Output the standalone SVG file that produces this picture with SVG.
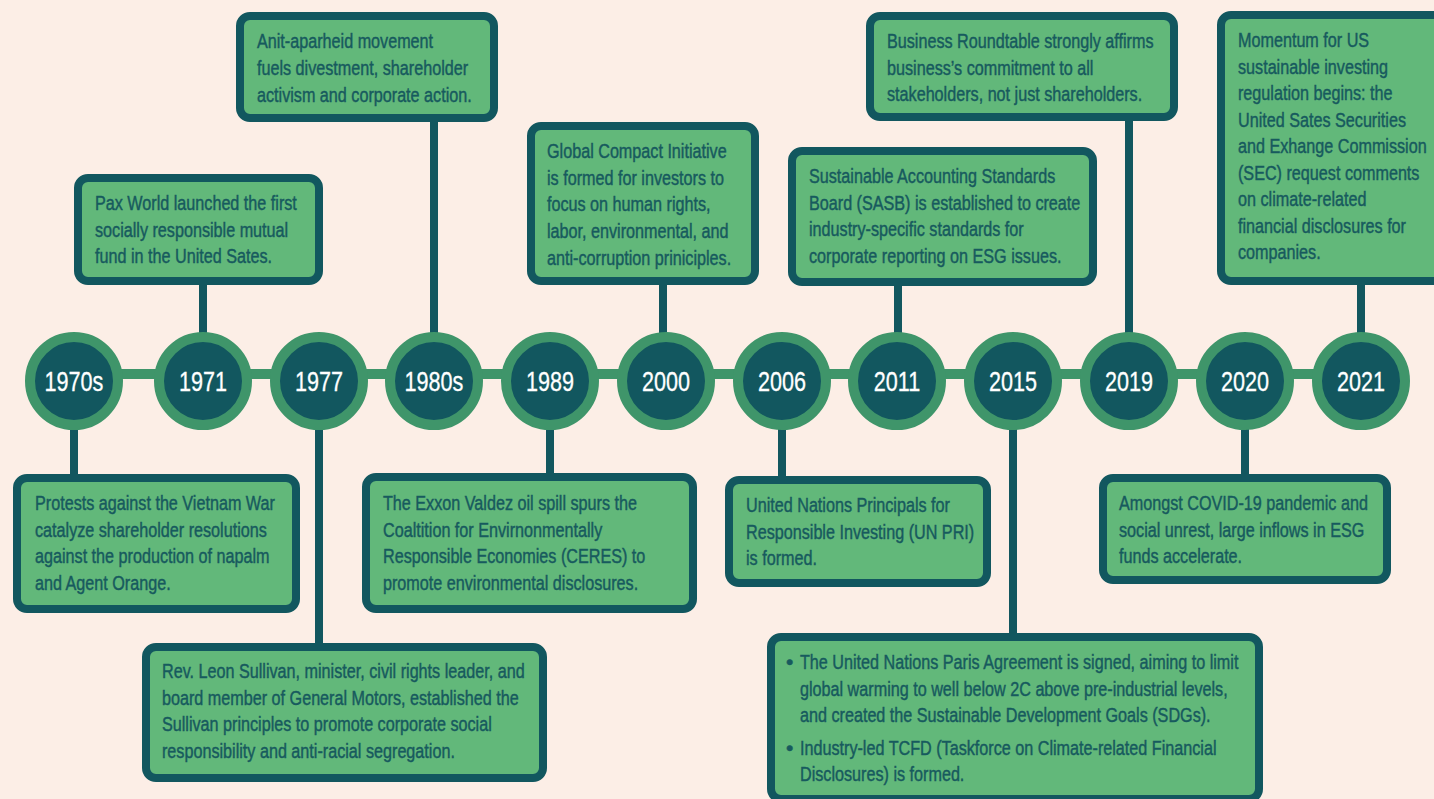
<svg xmlns="http://www.w3.org/2000/svg" width="1434" height="799" viewBox="0 0 1434 799">
<style>
.bg{fill:#FCEEE6}
.box{fill:#62B87A;stroke:#12575F;stroke-width:8}
.stem{stroke:#12575F;stroke-width:8;fill:none}
.bar{stroke:#3F956A;stroke-width:10;fill:none}
.ring{fill:#12575F;stroke:#3F956A;stroke-width:10}
.yr{font-family:"Liberation Sans",Arial,sans-serif;font-size:27px;fill:#FFFFFF;text-anchor:middle;stroke:#FFFFFF;stroke-width:0.3}
.t{font-family:"Liberation Sans",Arial,sans-serif;font-size:21px;fill:#175A5E;stroke:#175A5E;stroke-width:0.45}
</style>
<rect class="bg" x="0" y="0" width="1434" height="799"/>
<g id="connectors">
<line class="bar" x1="74" y1="374" x2="1361" y2="374"/>
<line class="stem" x1="203" y1="282" x2="203" y2="334"/>
<line class="stem" x1="434" y1="118" x2="434" y2="334"/>
<line class="stem" x1="663" y1="282" x2="663" y2="334"/>
<line class="stem" x1="898" y1="282" x2="898" y2="334"/>
<line class="stem" x1="1129" y1="118" x2="1129" y2="334"/>
<line class="stem" x1="1361" y1="282" x2="1361" y2="334"/>
<line class="stem" x1="74" y1="428" x2="74" y2="478"/>
<line class="stem" x1="319" y1="428" x2="319" y2="647"/>
<line class="stem" x1="550" y1="428" x2="550" y2="477"/>
<line class="stem" x1="782" y1="428" x2="782" y2="480"/>
<line class="stem" x1="1013" y1="428" x2="1013" y2="637"/>
<line class="stem" x1="1245" y1="428" x2="1245" y2="478"/>
</g>
<g id="y1970s"><circle class="ring" cx="74" cy="381" r="44"/><text class="yr" x="74" y="391" transform="translate(74,0) scale(0.8,1) translate(-74,0)">1970s</text></g>
<g id="y1971"><circle class="ring" cx="203" cy="381" r="44"/><text class="yr" x="203" y="391" transform="translate(203,0) scale(0.8,1) translate(-203,0)">1971</text></g>
<g id="y1977"><circle class="ring" cx="319" cy="381" r="44"/><text class="yr" x="319" y="391" transform="translate(319,0) scale(0.8,1) translate(-319,0)">1977</text></g>
<g id="y1980s"><circle class="ring" cx="434" cy="381" r="44"/><text class="yr" x="434" y="391" transform="translate(434,0) scale(0.8,1) translate(-434,0)">1980s</text></g>
<g id="y1989"><circle class="ring" cx="550" cy="381" r="44"/><text class="yr" x="550" y="391" transform="translate(550,0) scale(0.8,1) translate(-550,0)">1989</text></g>
<g id="y2000"><circle class="ring" cx="666" cy="381" r="44"/><text class="yr" x="666" y="391" transform="translate(666,0) scale(0.8,1) translate(-666,0)">2000</text></g>
<g id="y2006"><circle class="ring" cx="782" cy="381" r="44"/><text class="yr" x="782" y="391" transform="translate(782,0) scale(0.8,1) translate(-782,0)">2006</text></g>
<g id="y2011"><circle class="ring" cx="897" cy="381" r="44"/><text class="yr" x="897" y="391" transform="translate(897,0) scale(0.8,1) translate(-897,0)">2011</text></g>
<g id="y2015"><circle class="ring" cx="1013" cy="381" r="44"/><text class="yr" x="1013" y="391" transform="translate(1013,0) scale(0.8,1) translate(-1013,0)">2015</text></g>
<g id="y2019"><circle class="ring" cx="1129" cy="381" r="44"/><text class="yr" x="1129" y="391" transform="translate(1129,0) scale(0.8,1) translate(-1129,0)">2019</text></g>
<g id="y2020"><circle class="ring" cx="1245" cy="381" r="44"/><text class="yr" x="1245" y="391" transform="translate(1245,0) scale(0.8,1) translate(-1245,0)">2020</text></g>
<g id="y2021"><circle class="ring" cx="1361" cy="381" r="44"/><text class="yr" x="1361" y="391" transform="translate(1361,0) scale(0.8,1) translate(-1361,0)">2021</text></g>

<g id="box1970s"><rect class="box" x="17" y="478" width="279" height="131" rx="10"/>
<g transform="translate(35,0) scale(0.77,1) translate(-35,0)">
<text class="t" x="35" y="510">Protests against the Vietnam War</text>
<text class="t" x="35" y="537">catalyze shareholder resolutions</text>
<text class="t" x="35" y="563">against the production of napalm</text>
<text class="t" x="35" y="590">and Agent Orange.</text></g></g>

<g id="box1971"><rect class="box" x="78" y="178" width="241" height="103" rx="10"/>
<g transform="translate(95,0) scale(0.77,1) translate(-95,0)">
<text class="t" x="95" y="210">Pax World launched the first</text>
<text class="t" x="95" y="237">socially responsible mutual</text>
<text class="t" x="95" y="263">fund in the United Sates.</text></g></g>

<g id="box1977"><rect class="box" x="146" y="647" width="397" height="131" rx="10"/>
<g transform="translate(162,0) scale(0.77,1) translate(-162,0)">
<text class="t" x="162" y="678">Rev. Leon Sullivan, minister, civil rights leader, and</text>
<text class="t" x="162" y="705">board member of General Motors, established the</text>
<text class="t" x="162" y="731">Sullivan principles to promote corporate social</text>
<text class="t" x="162" y="758">responsibility and anti-racial segregation.</text></g></g>

<g id="box1980s"><rect class="box" x="240" y="16" width="254" height="102" rx="10"/>
<g transform="translate(257,0) scale(0.77,1) translate(-257,0)">
<text class="t" x="257" y="48">Anit-aparheid movement</text>
<text class="t" x="257" y="75">fuels divestment, shareholder</text>
<text class="t" x="257" y="102">activism and corporate action.</text></g></g>

<g id="box1989"><rect class="box" x="366" y="477" width="327" height="132" rx="10"/>
<g transform="translate(383,0) scale(0.77,1) translate(-383,0)">
<text class="t" x="383" y="510">The Exxon Valdez oil spill spurs the</text>
<text class="t" x="383" y="537">Coaltition for Envirnonmentally</text>
<text class="t" x="383" y="563">Responsible Economies (CERES) to</text>
<text class="t" x="383" y="590">promote environmental disclosures.</text></g></g>

<g id="box2000"><rect class="box" x="531" y="126" width="224" height="155" rx="10"/>
<g transform="translate(547,0) scale(0.77,1) translate(-547,0)">
<text class="t" x="547" y="158">Global Compact Initiative</text>
<text class="t" x="547" y="185">is formed for investors to</text>
<text class="t" x="547" y="211">focus on human rights,</text>
<text class="t" x="547" y="238">labor, environmental, and</text>
<text class="t" x="547" y="265">anti-corruption priniciples.</text></g></g>

<g id="box2006"><rect class="box" x="729" y="480" width="258" height="103" rx="10"/>
<g transform="translate(746,0) scale(0.77,1) translate(-746,0)">
<text class="t" x="746" y="512">United Nations Principals for</text>
<text class="t" x="746" y="539">Responsible Investing (UN PRI)</text>
<text class="t" x="746" y="565">is formed.</text></g></g>

<g id="box2011"><rect class="box" x="792" y="151" width="301" height="131" rx="10"/>
<g transform="translate(809,0) scale(0.77,1) translate(-809,0)">
<text class="t" x="809" y="183">Sustainable Accounting Standards</text>
<text class="t" x="809" y="210">Board (SASB) is established to create</text>
<text class="t" x="809" y="236">industry-specific standards for</text>
<text class="t" x="809" y="263">corporate reporting on ESG issues.</text></g></g>

<g id="box2015"><rect class="box" x="771" y="637" width="488" height="162" rx="10"/>
<text class="t" x="786" y="669">•</text>
<text class="t" x="786" y="755">•</text>
<g transform="translate(800,0) scale(0.77,1) translate(-800,0)">
<text class="t" x="800" y="669">The United Nations Paris Agreement is signed, aiming to limit</text>
<text class="t" x="800" y="696">global warming to well below 2C above pre-industrial levels,</text>
<text class="t" x="800" y="722">and created the Sustainable Development Goals (SDGs).</text>
<text class="t" x="800" y="755">Industry-led TCFD (Taskforce on Climate-related Financial</text>
<text class="t" x="800" y="781">Disclosures) is formed.</text></g></g>

<g id="box2019"><rect class="box" x="870" y="16" width="304" height="101" rx="10"/>
<g transform="translate(887,0) scale(0.77,1) translate(-887,0)">
<text class="t" x="887" y="48">Business Roundtable strongly affirms</text>
<text class="t" x="887" y="75">business’s commitment to all</text>
<text class="t" x="887" y="101">stakeholders, not just shareholders.</text></g></g>

<g id="box2020"><rect class="box" x="1103" y="478" width="284" height="102" rx="10"/>
<g transform="translate(1119,0) scale(0.77,1) translate(-1119,0)">
<text class="t" x="1119" y="510">Amongst COVID-19 pandemic and</text>
<text class="t" x="1119" y="537">social unrest, large inflows in ESG</text>
<text class="t" x="1119" y="563">funds accelerate.</text></g></g>

<g id="box2021"><rect class="box" x="1221" y="15" width="230" height="266" rx="10"/>
<g transform="translate(1238,0) scale(0.77,1) translate(-1238,0)">
<text class="t" x="1238" y="47">Momentum for US</text>
<text class="t" x="1238" y="74">sustainable investing</text>
<text class="t" x="1238" y="100">regulation begins: the</text>
<text class="t" x="1238" y="127">United Sates Securities</text>
<text class="t" x="1238" y="153">and Exhange Commission</text>
<text class="t" x="1238" y="180">(SEC) request comments</text>
<text class="t" x="1238" y="206">on climate-related</text>
<text class="t" x="1238" y="233">financial disclosures for</text>
<text class="t" x="1238" y="259">companies.</text></g></g>
</svg>
